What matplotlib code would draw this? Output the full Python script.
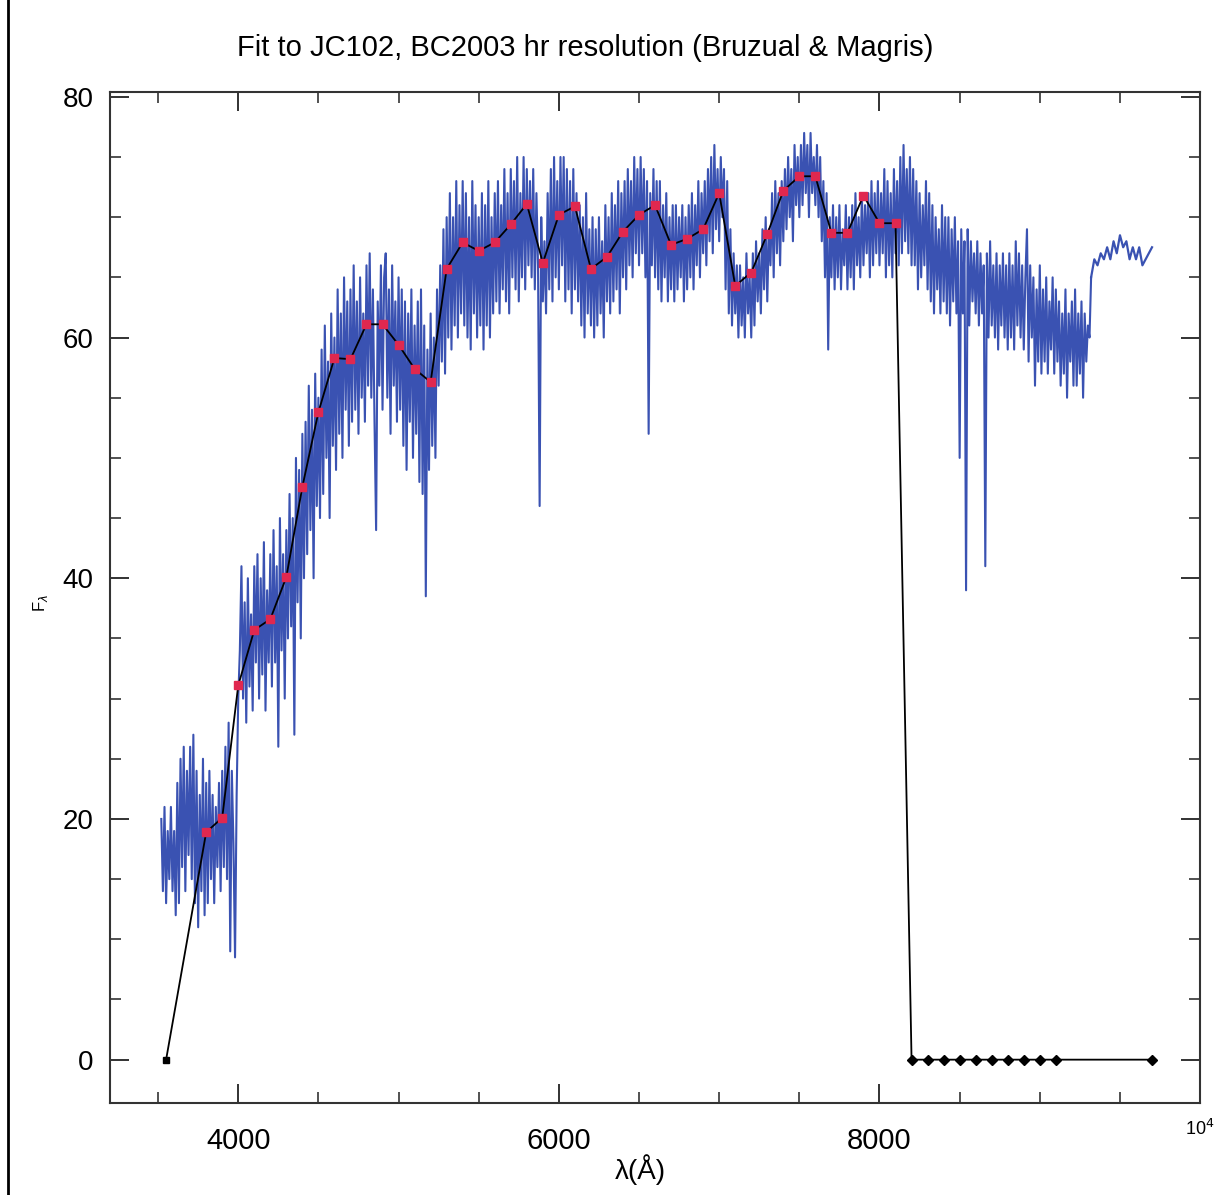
import numpy as np
from matplotlib import pyplot as plt
from matplotlib.lines import Line2D
from matplotlib.ticker import MultipleLocator, FixedLocator, FuncFormatter

# observed spectrum (blue): noisy part every 10 A from 3520 A,
# one row per 100 A
noisy_start = 3520
noisy_step = 10
noisy_flux = [
    20, 14, 21, 13, 19, 15, 21, 14, 19, 12,
    23, 13, 25, 16, 26, 14, 24, 17, 26, 15,
    27, 13, 24, 11, 22, 14, 25, 12, 23, 13,
    24, 15, 22, 13, 21, 16, 23, 14, 24, 16,
    26, 15, 28, 9, 24, 18, 8.5, 22, 30, 34,
    41, 30, 38, 28, 40, 31, 37, 29, 41, 33,
    42, 30, 40, 32, 43, 29, 39, 33, 42, 31,
    44, 33, 41, 26, 45, 34, 42, 30, 44, 35,
    47, 36, 45, 27, 50, 38, 49, 35, 52, 40,
    53, 42, 56, 44, 54, 40, 57, 46, 55, 45,
    59, 47, 61, 50, 58, 45, 62, 51, 60, 49,
    64, 52, 62, 50, 65, 54, 63, 51, 64, 53,
    66, 54, 63, 52, 65, 55, 62, 53, 66, 56,
    67, 55, 64, 53, 44, 63, 56, 66, 54, 65,
    67, 55, 64, 52, 66, 56, 63, 53, 65, 54,
    64, 51, 63, 49, 62, 53, 64, 50, 61, 52,
    63, 48, 64, 47, 61, 38.5, 59, 49, 62, 51,
    60, 50, 64, 56, 66, 58, 69, 57, 70, 60,
    72, 59, 70, 61, 73, 60, 71, 62, 73, 61,
    72, 60, 70, 59, 73, 62, 71, 60, 70, 61,
    72, 59, 71, 61, 73, 60, 70, 62, 72, 63,
    73, 62, 71, 64, 74, 63, 72, 62, 74, 65,
    73, 64, 75, 63, 72, 65, 75, 64, 74, 66,
    73, 65, 74, 64, 72, 66, 46, 70, 63, 68,
    62, 72, 64, 74, 63, 75, 65, 73, 64, 75,
    66, 75, 63, 74, 64, 73, 62, 74, 64, 72,
    63, 71, 61, 70, 60, 72, 62, 69, 61, 70,
    60, 69, 61, 70, 62, 68, 60, 71, 63, 70,
    62, 72, 63, 71, 64, 73, 62, 72, 65, 73,
    64, 74, 66, 73, 65, 75, 67, 74, 66, 75,
    67, 74, 65, 73, 52, 72, 66, 74, 65, 73,
    64, 73, 63, 71, 65, 72, 63, 70, 64, 71,
    63, 71, 64, 70, 65, 71, 63, 70, 64, 71,
    65, 72, 64, 71, 66, 73, 65, 72, 67, 73,
    66, 74, 68, 75, 67, 76, 69, 74, 68, 75,
    70, 74, 64, 73, 62, 69, 61, 67, 62, 66,
    60, 66, 61, 65, 60, 67, 62, 65, 60, 67,
    61, 68, 63, 67, 62, 69, 64, 70, 63, 69,
    66, 72, 65, 73, 67, 72, 66, 73, 68, 74,
    69, 75, 70, 74, 68, 76, 71, 75, 70, 76,
    71, 77, 72, 76, 70, 77, 72, 75, 71, 76,
    70, 75, 68, 73, 65, 72, 59, 70, 65, 71,
    64, 70, 65, 71, 64, 69, 66, 71, 64, 70,
    65, 71, 64, 72, 66, 70, 65, 72, 66, 71,
    67, 72, 65, 73, 66, 72, 67, 73, 66, 72,
    67, 74, 65, 73, 66, 72, 65, 74, 67, 73,
    66, 75, 67, 76, 68, 74, 67, 75, 66, 74,
    66, 73, 64, 72, 65, 71, 66, 73, 64, 72,
    63, 71, 62, 70, 64, 69, 62, 71, 63, 70,
    62, 70, 61, 69, 63, 70, 62, 68, 50, 69,
    62, 68, 39, 69, 61, 68, 63, 67, 62, 68,
    61, 67, 62, 66, 41, 67, 60, 68, 61, 66,
    60, 67, 59, 66, 61, 67, 60, 66, 59, 67,
    60, 66, 59, 68, 61, 67, 60, 66, 59, 65,
    69, 58, 66, 60, 65, 56, 64, 58, 66, 57,
    64, 58, 65, 57, 63, 59, 65, 57, 64, 58,
    63, 56, 62, 57, 64, 55, 62, 58, 63, 56,
    64, 56, 62, 57, 63, 55, 62, 58, 61, 60,
]
# smooth red tail, every 20 A from 9320 A
tail_start = 9320
tail_step = 20
tail_flux = [65, 66.5, 66, 67, 66.5, 67.5, 66.5, 68, 67, 68.5,
             67.5, 68, 66.5, 67.5, 66.5, 67.5, 66, 66.5, 67, 67.5]

# binned model fit (red squares) and the zero bins (black dots)
fit_wave = [3800, 3900, 4000, 4100, 4200, 4300, 4400, 4500, 4600, 4700,
            4800, 4900, 5000, 5100, 5200, 5300, 5400, 5500, 5600, 5700,
            5800, 5900, 6000, 6100, 6200, 6300, 6400, 6500, 6600, 6700,
            6800, 6900, 7000, 7100, 7200, 7300, 7400, 7500, 7600, 7700,
            7800, 7900, 8000, 8100]
fit_flux = [18.9, 20.1, 31.1, 35.7, 36.6, 40.1, 47.6, 53.8, 58.3, 58.2,
            61.1, 61.1, 59.4, 57.4, 56.3, 65.7, 67.9, 67.2, 67.9, 69.4,
            71.1, 66.2, 70.2, 70.9, 65.7, 66.7, 68.8, 70.2, 71.0, 67.7,
            68.2, 69.0, 72.0, 64.3, 65.4, 68.6, 72.2, 73.4, 73.4, 68.7,
            68.7, 71.8, 69.5, 69.5]
zero_wave = [3550, 8200, 8300, 8400, 8500, 8600, 8700, 8800, 8900, 9000,
             9100, 9700]
zero_flux = [0, 0, 0, 0, 0, 0, 0, 0, 0, 0, 0, 0]

title = "Fit to JC102, BC2003 hr resolution (Bruzual & Magris)"
blue = "#3a52b2"


def main():
    plt.rcParams["font.family"] = ["Liberation Sans", "DejaVu Sans"]
    fig = plt.figure(figsize=(12.29, 11.95), dpi=100)
    ax = fig.add_axes([0.0895, 0.077, 0.8870, 0.846])

    w1 = noisy_start + noisy_step * np.arange(len(noisy_flux))
    w2 = tail_start + tail_step * np.arange(len(tail_flux))
    ax.plot(np.concatenate([w1, w2[:1]]), noisy_flux + tail_flux[:1],
            color=blue, lw=1.5, zorder=2)
    ax.plot(w2, tail_flux, color=blue, lw=1.6, zorder=2)

    # fit line through all bins, sorted by wavelength
    pts = sorted(zip(fit_wave + zero_wave, fit_flux + zero_flux))
    xs, ys = zip(*pts)
    ax.plot(xs, ys, color="black", lw=1.3, zorder=3)
    ax.plot(fit_wave, fit_flux, ls="none", marker="s", ms=6,
            color="#e0284f", zorder=4)
    ax.plot(zero_wave[1:], zero_flux[1:], ls="none", marker="D", ms=5.5,
            color="black", zorder=4)
    ax.plot(zero_wave[:1], zero_flux[:1], ls="none", marker="s", ms=5,
            color="black", zorder=4)

    ax.set_xlim(3200, 10000)
    ax.set_ylim(-3.6, 80.4)
    ax.xaxis.set_major_locator(FixedLocator([4000, 6000, 8000, 10000]))
    ax.xaxis.set_minor_locator(MultipleLocator(500))
    ax.yaxis.set_major_locator(MultipleLocator(20))
    ax.yaxis.set_minor_locator(MultipleLocator(5))
    ax.xaxis.set_major_formatter(
        FuncFormatter(lambda v, p: "" if v >= 10000 else "%d" % v))
    ax.tick_params(which="both", direction="in", top=True, right=True,
                   color="#222222")
    ax.tick_params(which="major", length=14, width=1.3)
    ax.tick_params(which="minor", length=8, width=1.1)
    ax.tick_params(axis="x", labelsize=21, pad=17)
    ax.tick_params(axis="y", labelsize=20, pad=12)
    for s in ax.spines.values():
        s.set_linewidth(1.5)
        s.set_color("#333333")

    ax.text(10000, -0.016, r"10$^4$", transform=ax.get_xaxis_transform(),
            ha="center", va="top", fontsize=13)
    fig.text(640 / 1229, 1 - 1170 / 1195, "λ(Å)", ha="center", va="center",
             fontsize=20)
    fig.text(40 / 1229, 1 - 603 / 1195, r"F$_\lambda$", ha="center",
             va="center", rotation=90, fontsize=12)
    fig.text(585 / 1229, 1 - 48 / 1195, title, ha="center", va="center",
             fontsize=21)

    fig.add_artist(Line2D([8 / 1229, 8 / 1229], [0, 1],
                          transform=fig.transFigure, color="black", lw=2))

    fig.savefig("out.png", dpi=100)


if __name__ == "__main__":
    main()
